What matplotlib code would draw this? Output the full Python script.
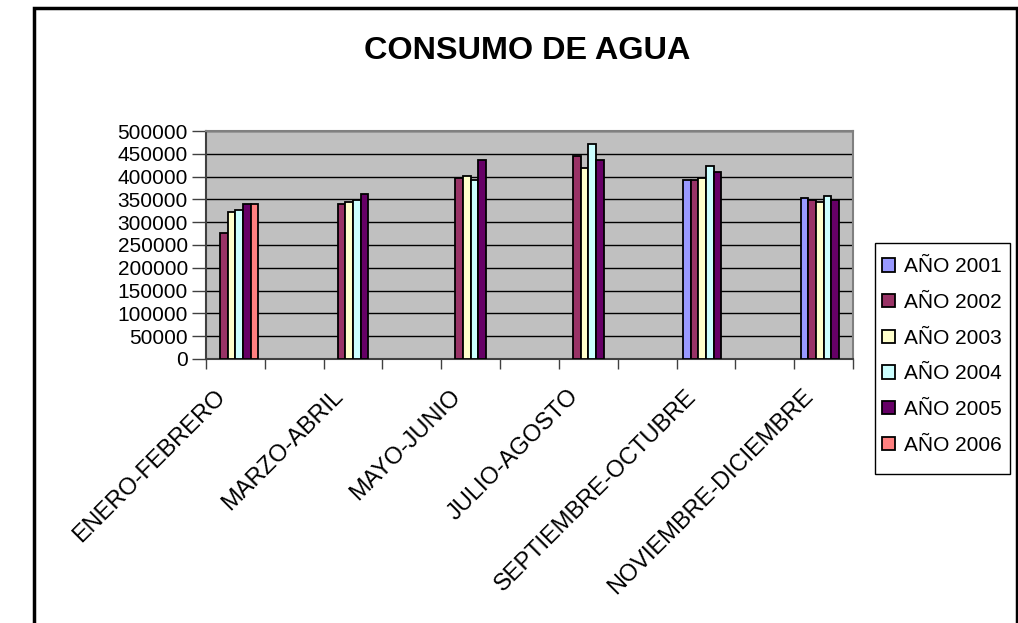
import numpy as np
import matplotlib
matplotlib.use("Agg")
import matplotlib.pyplot as plt
import matplotlib.transforms as mtransforms
from matplotlib.patches import Rectangle

plt.rcParams['font.family'] = ['Liberation Sans', 'DejaVu Sans']

# data
periods = ["ENERO-FEBRERO", "MARZO-ABRIL", "MAYO-JUNIO", "JULIO-AGOSTO",
           "SEPTIEMBRE-OCTUBRE", "NOVIEMBRE-DICIEMBRE"]
years = ["AÑO 2001", "AÑO 2002", "AÑO 2003", "AÑO 2004", "AÑO 2005", "AÑO 2006"]
nan = np.nan
v2001 = [nan, nan, nan, nan, 392500, 353000]
v2002 = [277000, 340000, 397000, 446000, 392500, 349000]
v2003 = [322500, 344000, 401000, 419000, 397000, 344000]
v2004 = [327500, 349000, 392000, 472000, 424000, 357500]
v2005 = [340000, 362500, 437000, 437000, 410000, 349000]
v2006 = [340000, nan, nan, nan, nan, nan]
series = [v2001, v2002, v2003, v2004, v2005, v2006]
colors = ["#9999FF", "#993366", "#FFFFCC", "#CCFFFF", "#660066", "#FF8080"]

fig = plt.figure(figsize=(10.18, 6.23), dpi=100)
ax = fig.add_axes([206 / 1018, 1 - 359 / 623, 647 / 1018, 228 / 623])

# every other category slot is blank in the source sheet
x = np.arange(len(periods)) * 2
bw = 0.775 / len(series)
for i, (vals, c, name) in enumerate(zip(series, colors, years)):
    off = (i - (len(series) - 1) / 2) * bw
    ax.bar(x + off, vals, width=bw, color=c, edgecolor="black",
           linewidth=1.3, label=name, zorder=3)

ax.set_facecolor("#C0C0C0")
ax.set_xlim(-0.5, 2 * len(periods) - 1.5)
ax.set_ylim(0, 500000)
ax.set_yticks(np.arange(0, 500001, 50000))
ax.set_yticklabels([str(v) for v in range(0, 500001, 50000)], fontsize=15)
ax.yaxis.grid(True, color="black", linewidth=1.0, zorder=0)

ax.set_xticks(x)
ax.set_xticklabels(periods, rotation=45, ha="right", va="top",
                   rotation_mode="anchor", fontsize=17)
ax.tick_params(axis="x", which="major", length=0, pad=19)
shift = mtransforms.ScaledTranslation(-21 / 100, 0, fig.dpi_scale_trans)
for lab in ax.get_xticklabels():
    lab.set_transform(lab.get_transform() + shift)
ax.set_xticks(np.arange(-0.5, 2 * len(periods) - 1, 1), minor=True)
ax.tick_params(axis="x", which="minor", length=7, width=1, color="#404040")
ax.tick_params(axis="y", length=10, width=1, color="#404040", pad=3)

for s in ["top", "right"]:
    ax.spines[s].set_color("#808080")
    ax.spines[s].set_linewidth(1.5)
for s in ["left", "bottom"]:
    ax.spines[s].set_color("#404040")
    ax.spines[s].set_linewidth(1.5)

fig.text(527 / 1018, 1 - 51 / 623, "CONSUMO DE AGUA", ha="center", va="center",
         fontsize=23.3, fontweight="bold")

# legend entries, with the box drawn separately (Excel pads it unevenly)
fig.legend(loc="upper right", bbox_to_anchor=(1010 / 1018, 1 - 249 / 623),
           fontsize=15, frameon=False, handlelength=0.6, handleheight=0.6,
           handletextpad=0.45, labelspacing=0.8, borderpad=0.4, borderaxespad=0)
fig.patches.append(Rectangle((875 / 1018, 1 - 474 / 623), 135 / 1018, 231 / 623,
                             transform=fig.transFigure, fill=False,
                             edgecolor="black", linewidth=1.0))

# outer chart-area border
fig.patches.append(Rectangle((34 / 1018, -0.1), (1017 - 34) / 1018, 1.1 - 8 / 623,
                             transform=fig.transFigure, fill=False,
                             edgecolor="black", linewidth=2.5))

fig.savefig("out.png", dpi=100)
